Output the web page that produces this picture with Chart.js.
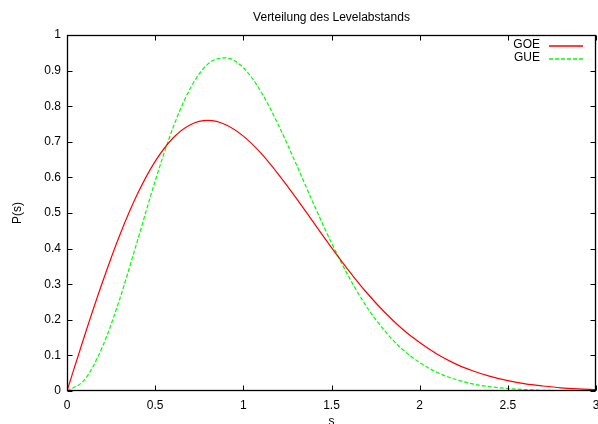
<!DOCTYPE html>
<html>
<head>
<meta charset="utf-8">
<script src="https://cdn.jsdelivr.net/npm/chart.js@4/dist/chart.umd.min.js"></script>
<style>
  html, body { margin: 0; padding: 0; overflow: hidden; background: #fff; }
  #wrap { width: 598px; height: 432px; position: relative; }
</style>
</head>
<body>
<div id="wrap"><canvas id="spacing-plot"></canvas></div>
<script>
// level spacing s, every 0.1
let s_values = [0, 0.1, 0.2, 0.3, 0.4, 0.5, 0.6, 0.7, 0.8, 0.9, 1.0,
    1.1, 1.2, 1.3, 1.4, 1.5, 1.6, 1.7, 1.8, 1.9, 2.0,
    2.1, 2.2, 2.3, 2.4, 2.5, 2.6, 2.7, 2.8, 2.9, 3.0]

let goe_values = [0, 0.156, 0.304, 0.439, 0.554, 0.645, 0.710, 0.748, 0.760, 0.748, 0.716,
    0.668, 0.608, 0.542, 0.472, 0.403, 0.337, 0.276, 0.222, 0.175, 0.136,
    0.103, 0.077, 0.057, 0.041, 0.029, 0.020, 0.014, 0.009, 0.006, 0.004]

let gue_values = [0, 0.032, 0.123, 0.260, 0.423, 0.590, 0.738, 0.851, 0.919, 0.936, 0.908,
    0.841, 0.746, 0.637, 0.524, 0.416, 0.319, 0.236, 0.170, 0.118, 0.080,
    0.052, 0.033, 0.020, 0.012, 0.007, 0.004, 0.002, 0.001, 0.0006, 0.0003]

let series_names = ['GOE', 'GUE']
let series_colors = ['#ff0000', '#00ff00']
let series_dashes = [[], [4, 2]]
let x_ticks = [0, 0.5, 1, 1.5, 2, 2.5, 3]
let y_ticks = [0, 0.1, 0.2, 0.3, 0.4, 0.5, 0.6, 0.7, 0.8, 0.9, 1]

function to_points(ys) {
    return s_values.map((s, i) => ({x: s, y: ys[i]}))
}

// gnuplot style: ticks pointing inward on all four sides, plus a full frame
let frame_plugin = {
    id: 'frame',
    afterDraw(chart) {
        let ctx = chart.ctx
        let a = chart.chartArea
        let l = Math.round(a.left) + 0.5, r = Math.round(a.right) - 0.5
        let t = Math.round(a.top) + 0.5, b = Math.round(a.bottom) - 0.5
        ctx.save()
        ctx.strokeStyle = '#000'
        ctx.lineWidth = 1
        ctx.beginPath()
        chart.scales.x.ticks.forEach(tk => {
            let px = Math.round(chart.scales.x.getPixelForValue(tk.value)) + 0.5
            ctx.moveTo(px, b); ctx.lineTo(px, b - 5)
            ctx.moveTo(px, t); ctx.lineTo(px, t + 5)
        })
        chart.scales.y.ticks.forEach(tk => {
            let py = Math.round(chart.scales.y.getPixelForValue(tk.value)) + 0.5
            ctx.moveTo(l, py); ctx.lineTo(l + 5, py)
            ctx.moveTo(r, py); ctx.lineTo(r - 5, py)
        })
        ctx.stroke()
        ctx.lineWidth = 1.3
        ctx.strokeRect(l, t, r - l, b - t)
        ctx.restore()
    }
}

// key in the upper right: text first, line sample after it
let key_plugin = {
    id: 'key',
    afterDraw(chart) {
        let ctx = chart.ctx
        let a = chart.chartArea
        series_names.forEach((name, i) => {
            let y = Math.round(a.top + 10 + i * 13)
            ctx.save()
            ctx.font = '12px "Liberation Sans", Arial, sans-serif'
            ctx.fillStyle = '#000'
            ctx.textAlign = 'right'
            ctx.textBaseline = 'middle'
            ctx.fillText(name, a.right - 56, y)
            ctx.strokeStyle = series_colors[i]
            ctx.lineWidth = 1.4
            ctx.setLineDash(series_dashes[i])
            ctx.beginPath()
            ctx.moveTo(a.right - 47, y + 1)
            ctx.lineTo(a.right - 13, y + 1)
            ctx.stroke()
            ctx.restore()
        })
    }
}

function define_chart_defaults() {
    Chart.defaults.font.family = '"Liberation Sans", Arial, sans-serif'
    Chart.defaults.font.size = 12
    Chart.defaults.color = '#000'
    Chart.defaults.responsive = true
    Chart.defaults.maintainAspectRatio = false
    Chart.defaults.animation = false
    Chart.defaults.plugins.legend.display = false
}

function create_spacing_chart() {
    let ctx = document.getElementById('spacing-plot')
    return new Chart(ctx, {
        type: 'line',
        data: {
            datasets: [{
                label: series_names[0],
                data: to_points(goe_values),
                borderColor: series_colors[0],
                borderWidth: 1.2,
                borderDash: series_dashes[0],
                pointRadius: 0,
                cubicInterpolationMode: 'monotone',
            }, {
                label: series_names[1],
                data: to_points(gue_values),
                borderColor: series_colors[1],
                borderWidth: 1.2,
                borderDash: series_dashes[1],
                pointRadius: 0,
                cubicInterpolationMode: 'monotone',
            }]
        },
        options: {
            layout: {padding: {left: 0, right: 2, top: 0, bottom: 0}},
            scales: {
                x: {
                    type: 'linear',
                    min: 0,
                    max: 3,
                    afterBuildTicks: sc => { sc.ticks = x_ticks.map(v => ({value: v})) },
                    ticks: {padding: 7, maxRotation: 0, callback: v => String(v)},
                    grid: {display: true, drawOnChartArea: false, drawTicks: false, color: 'rgba(0,0,0,0)'},
                    border: {display: false},
                    title: {display: true, text: 's', padding: {top: 3.5, bottom: 3.5}},
                    afterFit: sc => { sc.paddingLeft = 0; sc.paddingRight = 0; sc.height = 41 },
                },
                y: {
                    min: 0,
                    max: 1,
                    afterBuildTicks: sc => { sc.ticks = y_ticks.map(v => ({value: v})) },
                    ticks: {padding: 6, callback: v => String(v)},
                    grid: {display: true, drawOnChartArea: false, drawTicks: false, color: 'rgba(0,0,0,0)'},
                    border: {display: false},
                    title: {display: true, text: 'P(s)', padding: {top: 10, bottom: 10}},
                    afterFit: sc => { sc.width = 67 },
                },
            },
            plugins: {
                title: {
                    display: true,
                    text: 'Verteilung des Levelabstands',
                    fullSize: false,
                    font: {size: 12, weight: 'normal'},
                    padding: {top: 10, bottom: 10.6},
                },
                tooltip: {enabled: false},
            }
        },
        plugins: [frame_plugin, key_plugin]
    })
}

define_chart_defaults()
create_spacing_chart()
</script>
</body>
</html>
